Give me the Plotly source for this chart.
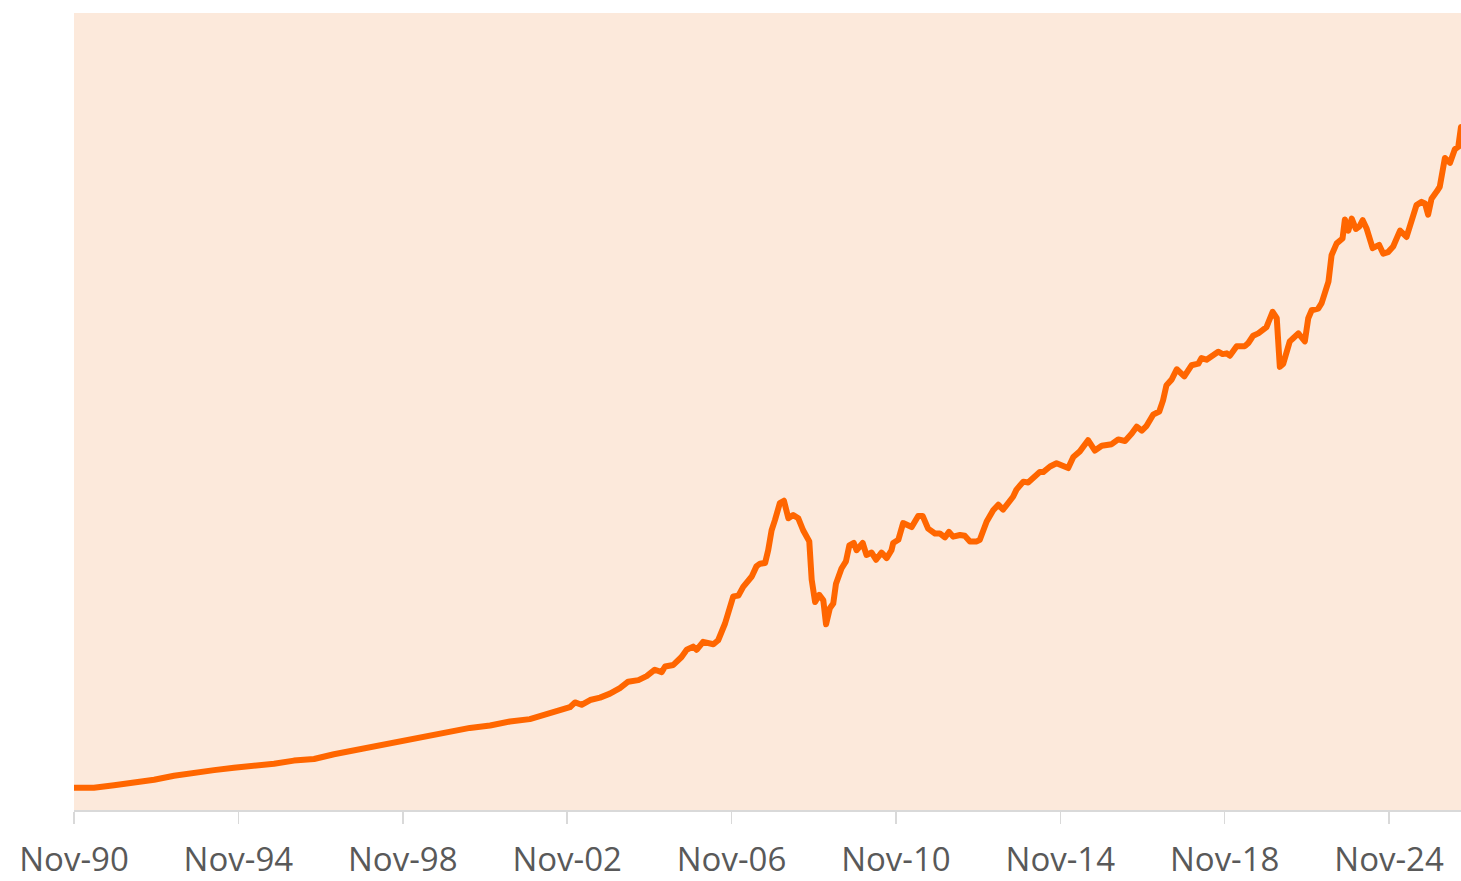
import plotly.graph_objects as go

# Period index (category position, one step per observation) and index value
period = [0, 5.8, 11.7, 17.5, 23.4, 29.2, 35.0, 40.9, 46.7, 52.6, 58.4, 64.2, 70.1, 75.9, 81.8, 87.6,
          92.3, 98.1, 103.9, 108.8, 115.6, 121.5, 127.3, 133.1, 136.1, 139.0, 141.9, 144.8, 146.3, 148.2,
          150.7, 153.6, 156.5, 159.4, 161.8, 164.8, 167.2, 169.6, 171.6, 172.6, 175.0, 177.4, 178.9, 180.8,
          181.8, 183.7, 186.7, 188.1, 190.1, 192.5, 194.0, 195.4, 197.9, 199.3, 200.3,
          201.8, 202.7, 203.7, 204.7, 206.1, 207.3, 208.6, 210.0, 211.5, 212.9, 213.9, 214.7, 215.4, 216.4,
          217.6, 218.8, 219.6, 220.7, 221.7, 222.5, 224.1, 225.4, 226.4, 227.7, 228.5, 230.3, 231.4, 232.9,
          234.2, 235.8, 237.3, 238.7, 239.2, 240.7, 242.1, 244.6, 246.5, 247.8, 249.4, 251.4, 252.8, 254.3,
          255.5, 256.7, 258.7, 260.1, 261.6, 263.6, 264.5, 266.5, 268.4, 269.9,
          271.3, 274.2, 275.2, 277.2, 278.6, 282.0, 283.0, 285.0, 286.9, 290.3, 291.8, 293.7, 296.1, 298.1,
          300.1, 303.0, 304.9, 306.9, 308.8, 310.3, 311.8, 313.2, 315.1, 316.9, 318.0, 319.0, 320.5, 322.0,
          324.2, 326.3, 328.3, 329.2, 330.7, 332.6, 334.1, 335.4, 336.6, 337.5, 339.5, 341.9, 342.9, 344.3,
          345.8, 348.2, 350.0, 351.2, 352.1, 353.1, 355.0, 356.0, 357.5, 359.4, 360.4, 361.4, 363.3, 364.3,
          366.3, 367.2, 368.7, 370.4, 371.1, 372.1, 373.1, 374.3, 375.3, 376.3, 377.4, 379.2, 381.1, 382.3,
          383.7, 385.2, 387.2, 389.1, 391.0, 392.0, 393.5, 394.5, 395.4, 396.4, 397.9, 398.8, 400.3, 401.8,
          403.2, 404.2, 405.0]

value = [2.8, 2.8, 3.1, 3.4, 3.8, 4.3, 4.7, 5.0, 5.3, 5.5, 5.8, 6.2, 6.4, 7.0, 7.5, 7.9,
         8.4, 8.9, 9.2, 9.8, 10.3, 10.6, 11.1, 11.4, 11.8, 12.0, 12.5, 12.9, 13.5, 13.2,
         13.8, 14.1, 14.6, 15.3, 16.1, 16.3, 16.8, 17.6, 17.3, 18.0, 18.2, 19.2, 20.1, 20.5,
         20.1, 21.1, 20.8, 21.3, 23.4, 26.8, 26.9, 28.0, 29.3, 30.6, 30.9,
         31.0, 32.6, 35.1, 36.4, 38.5, 38.8, 36.6, 37.0, 36.6, 35.1, 34.1, 33.7, 28.9, 26.1,
         27.0, 26.3, 23.3, 25.3, 25.9, 28.4, 30.3, 31.2, 33.2, 33.5, 32.6, 33.5, 32.0, 32.3,
         31.4, 32.3, 31.6, 32.6, 33.5, 33.9, 36.0, 35.5, 36.9, 36.9, 35.3, 34.7, 34.7, 34.2,
         34.9, 34.3, 34.5, 34.4, 33.7, 33.7, 33.9, 36.2, 37.6, 38.3,
         37.7, 39.3, 40.2, 41.2, 41.1, 42.4, 42.4, 43.1, 43.5, 42.9, 44.3, 45.0, 46.4, 45.1,
         45.7, 45.9, 46.5, 46.3, 47.2, 48.1, 47.6, 48.2, 49.6, 50.0, 51.4, 53.3, 54.0, 55.3,
         54.4, 55.8, 56.0, 56.7, 56.5, 57.0, 57.5, 57.2, 57.3, 57.0, 58.2, 58.2, 58.6, 59.5,
         59.8, 60.6, 62.5, 61.7, 55.6, 56.0, 58.8, 59.2, 59.8, 58.8, 61.7, 62.7, 62.9, 63.6,
         66.3, 69.6, 71.1, 71.7, 74.1, 72.7, 74.2, 72.9, 73.2, 74.0, 73.0, 70.5, 70.9, 69.8,
         70.0, 70.7, 72.7, 71.9, 74.2, 75.9, 76.3, 76.1, 74.7, 76.7, 77.6, 78.2, 81.8, 81.2,
         82.9, 83.2, 85.7]

tick_pos = [0, 48, 96, 144, 192, 240, 288, 336, 384]
tick_labels = ["Nov-90", "Nov-94", "Nov-98", "Nov-02", "Nov-06",
               "Nov-10", "Nov-14", "Nov-18", "Nov-24"]

fig = go.Figure()
fig.add_trace(go.Scatter(
    x=period, y=value, mode="lines",
    line=dict(color="#FF6600", width=6),
    hoverinfo="skip", showlegend=False,
))

fig.update_layout(
    width=1461, height=881,
    margin=dict(l=74, r=0, t=13, b=71),
    paper_bgcolor="white",
    plot_bgcolor="#FCE9DB",
    font=dict(family="Open Sans, DejaVu Sans, sans-serif", color="#595959"),
)
fig.update_xaxes(
    range=[0, 405], tickvals=tick_pos, ticktext=tick_labels,
    showgrid=False, zeroline=False,
    showline=True, linecolor="#D9D9D9", linewidth=1.5,
    ticks="outside", ticklen=12, tickwidth=1.5, tickcolor="#D9D9D9",
    ticklabelstandoff=8,
    tickfont=dict(size=33, color="#595959"),
)
fig.update_yaxes(
    range=[0, 100], showgrid=False, zeroline=False,
    showticklabels=False, showline=False,
)

post = ("document.body.style.margin='0';document.body.style.overflow='hidden';"
        "var gd=document.getElementById('{plot_id}');"
        "Plotly.relayout(gd,{width:1461,height:881});"
        "var s=document.createElement('style');"
        "s.textContent='.js-line{stroke-linejoin:round;stroke-linecap:round}';"
        "document.head.appendChild(s);")
fig.write_html("out.html", post_script=post,
               config={"displayModeBar": False, "staticPlot": True})
